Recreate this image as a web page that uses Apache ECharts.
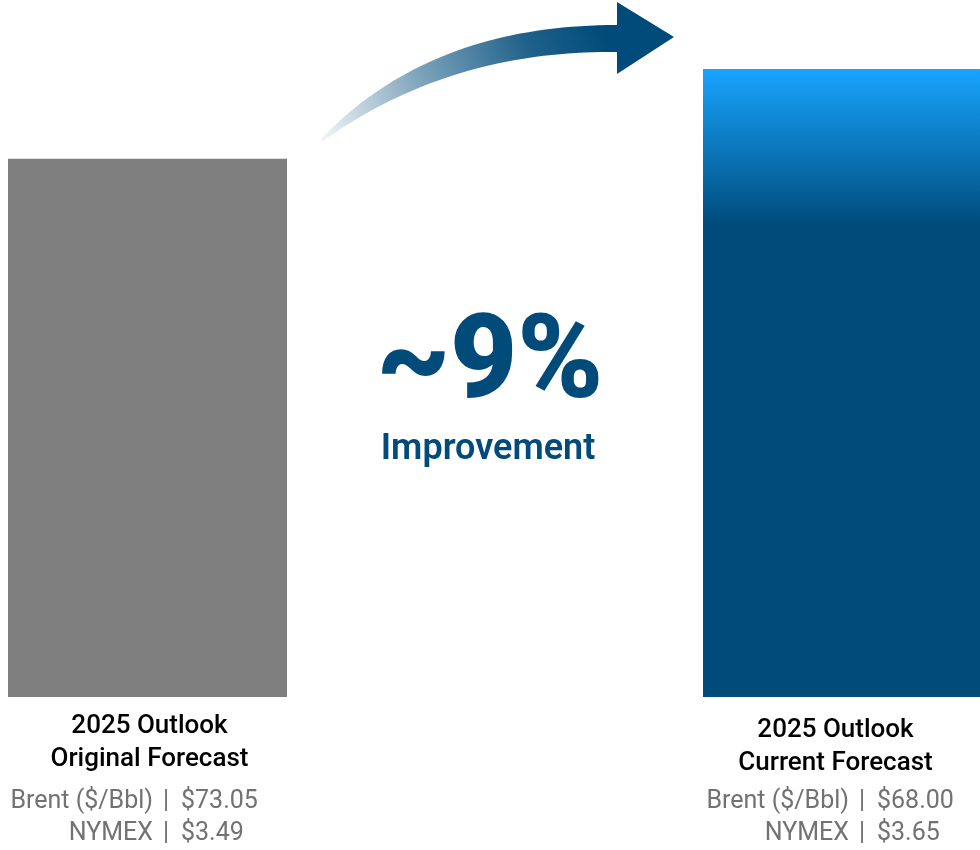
<!DOCTYPE html>
<html>
<head>
<meta charset="utf-8">
<script src="https://cdn.jsdelivr.net/npm/echarts@6/dist/echarts.min.js"></script>
<style>
  html, body { margin: 0; padding: 0; background: #ffffff; }
  #chart { width: 980px; height: 850px; }
</style>
</head>
<body>
<div id="chart"></div>
<script>
// Forecast categories and their relative outlook levels (current forecast = 100)
const categories = ['2025 Outlook\nOriginal Forecast', '2025 Outlook\nCurrent Forecast'];
const outlookIndex = [85.7, 100];
const brentPrices = ['$73.05', '$68.00'];
const nymexPrices = ['$3.49', '$3.65'];
const changeLabel = '~9%';
const changeCaption = 'Improvement';

const FONT = 'Roboto, "Noto Sans", sans-serif';
const NAVY = '#004b7a';
const GREY_TEXT = '#727272';

function linear(x, y, x2, y2, stops) {
  return {
    type: 'linear', x: x, y: y, x2: x2, y2: y2,
    colorStops: stops.map(s => ({ offset: s[0], color: s[1] }))
  };
}

// sample a quadratic curve into polygon points
function quad(p0, p1, p2, n) {
  const pts = [];
  for (let k = 0; k <= n; k++) {
    const t = k / n, u = 1 - t;
    pts.push([
      u * u * p0[0] + 2 * u * t * p1[0] + t * t * p2[0],
      u * u * p0[1] + 2 * u * t * p1[1] + t * t * p2[1]
    ]);
  }
  return pts;
}

const chart = echarts.init(document.getElementById('chart'), null, { renderer: 'canvas' });

// one grid per bar so each column sits in its own slot
const grids = [
  { left: 8, width: 279, top: 69, bottom: 153 },
  { left: 703, width: 277, top: 69, bottom: 153 }
];
// small nudges for the category captions under each bar
const captionPadding = [[0, 0, 0, 4], [4, 12, 0, 0]];

const barColors = [
  '#7f7f7f',
  linear(0, 0, 0, 1, [[0, '#18a4ff'], [0.25, NAVY], [1, NAVY]])
];

// price lines under each bar, aligned on the "|" divider
const pipeX = [166, 862];
const priceRows = [
  { y: 802, label: 'Brent ($/Bbl)', values: brentPrices },
  { y: 834, label: 'NYMEX', values: nymexPrices }
];
const priceText = [];
pipeX.forEach((px, i) => {
  priceRows.forEach(row => {
    const common = { fontFamily: FONT, fontSize: 25, fill: GREY_TEXT, verticalAlign: 'middle' };
    priceText.push(
      { type: 'text', x: px - 13, y: row.y, style: Object.assign({ text: row.label, align: 'right' }, common) },
      { type: 'text', x: px, y: row.y, style: Object.assign({ text: '|', align: 'center' }, common) },
      { type: 'text', x: px + 15, y: row.y, style: Object.assign({ text: row.values[i], align: 'left' }, common) }
    );
  });
});

// curved arrow rising from the original bar toward the current bar
const arrowPoints = []
  .concat(quad([321, 139], [430, 25], [617, 25], 40))
  .concat([[617, 2], [674, 37], [617, 74]])
  .concat(quad([617, 52], [450, 50], [323, 141], 40));

const option = {
  animation: false,
  backgroundColor: '#ffffff',
  grid: grids,
  xAxis: grids.map((g, i) => ({
    type: 'category',
    gridIndex: i,
    data: [categories[i]],
    axisLine: { show: false },
    axisTick: { show: false },
    axisLabel: {
      margin: 13,
      padding: captionPadding[i],
      fontFamily: FONT,
      fontSize: 26,
      fontWeight: 500,
      lineHeight: 33,
      color: '#000000'
    }
  })),
  yAxis: grids.map((g, i) => ({
    type: 'value',
    gridIndex: i,
    min: 0,
    max: 100,
    show: false,
    splitLine: { show: false }
  })),
  series: grids.map((g, i) => ({
    type: 'bar',
    xAxisIndex: i,
    yAxisIndex: i,
    barWidth: '100%',
    data: [outlookIndex[i]],
    itemStyle: { color: barColors[i] },
    silent: true
  })),
  graphic: [
    {
      type: 'polygon',
      shape: { points: arrowPoints },
      style: {
        fill: linear(0, 1, 1, 0, [
          [0, 'rgba(0,75,122,0.05)'],
          [0.3, 'rgba(0,75,122,0.5)'],
          [0.6, 'rgba(0,75,122,0.88)'],
          [0.8, 'rgba(0,75,122,1)'],
          [1, 'rgba(0,75,122,1)']
        ])
      }
    },
    {
      type: 'text',
      x: 490,
      y: 368,
      style: {
        text: changeLabel,
        fontFamily: FONT,
        fontSize: 116,
        fontWeight: 900,
        fill: NAVY,
        align: 'center',
        verticalAlign: 'middle'
      }
    },
    {
      type: 'text',
      x: 488,
      y: 450,
      style: {
        text: changeCaption,
        fontFamily: FONT,
        fontSize: 36,
        fontWeight: 600,
        fill: NAVY,
        align: 'center',
        verticalAlign: 'middle'
      }
    }
  ].concat(priceText)
};

chart.setOption(option);
</script>
</body>
</html>
